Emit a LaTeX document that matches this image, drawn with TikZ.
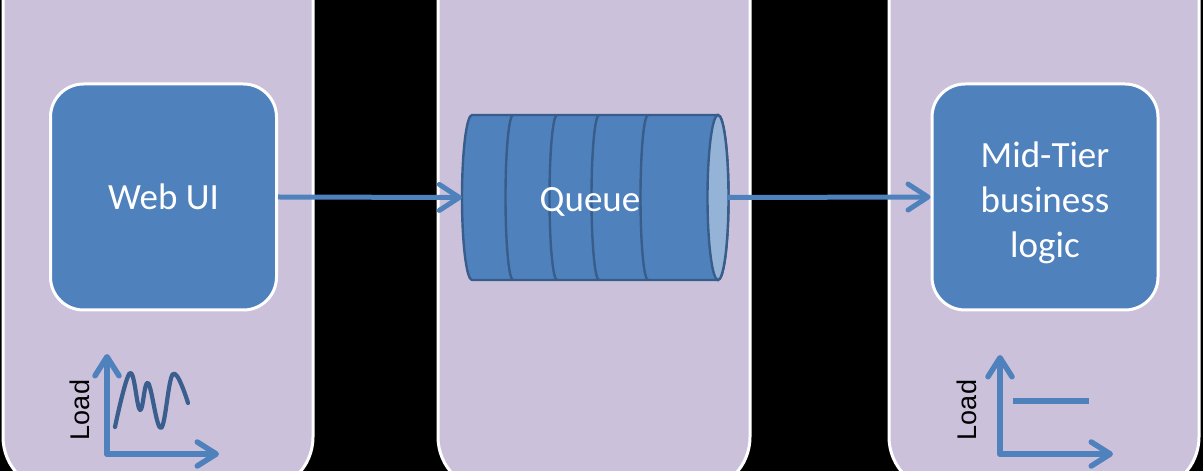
\documentclass[tikz,border=0pt]{standalone}
\usepackage{fontspec}
\setmainfont{Carlito}
\newfontfamily\arialfont{Liberation Sans}
\usetikzlibrary{arrows.meta}
\definecolor{panelfill}{HTML}{CCC1DA}
\definecolor{boxblue}{HTML}{4F81BD}
\definecolor{qline}{HTML}{385D8A}
\definecolor{qcap}{HTML}{95B3D7}
\definecolor{wavecol}{HTML}{3A5F8E}
\tikzset{
  panel/.style={fill=panelfill, draw=white, line width=3pt, rounded corners=54pt},
  tierbox/.style={rectangle, fill=boxblue, draw=white, line width=3pt, rounded corners=33pt,
    minimum width=226pt, minimum height=226pt, inner sep=0pt, align=center,
    text=white, font=\fontsize{37}{45}\selectfont},
  boxtext/.style={text=white, font=\fontsize{37}{45}\selectfont, inner sep=0pt, align=center},
  qstroke/.style={draw=qline, line width=2.4pt},
  conn/.style={draw=boxblue, line width=5pt,
    -{Straight Barb[length=20pt, width=26pt, round]}},
  axis/.style={draw=boxblue, line width=5.5pt, line cap=round,
    -{Straight Barb[length=19pt, width=24pt, round]}},
  loadlbl/.style={rotate=90, font=\arialfont\fontsize{27}{30}\selectfont, text=black, inner sep=0pt},
}
\begin{document}
\begin{tikzpicture}[x=1pt, y=1pt]
\useasboundingbox (0,0) rectangle (1203,471);
\clip (0,0) rectangle (1203,471);
\fill[black] (0,0) rectangle (1203,471);
% panels
\draw[panel] (3,-20) rectangle (313,540);
\draw[panel] (438,-20) rectangle (750,540);
\draw[panel] (889,-20) rectangle (1199,540);
% boxes
\node[tierbox] (web) at (163.5,274) {Web UI};
\node[tierbox] (mid) at (1045,274) {};
\node[boxtext] (midlabel) at (1045,268) {Mid-Tier\\business\\logic};
% queue cylinder
\node[rectangle, inner sep=0pt, minimum width=266pt, minimum height=165pt] (queue) at (595,273.5) {};
\draw[qstroke, fill=boxblue] (718,356) -- (472,356)
  arc[start angle=90, end angle=270, x radius=10pt, y radius=82.5pt]
  -- (718,191)
  arc[start angle=-90, end angle=90, x radius=10.5pt, y radius=82.5pt] -- cycle;
\foreach \rx in {513,557,599,648}{
  \draw[qstroke] (\rx,356) arc[start angle=90, end angle=270, x radius=7.5pt, y radius=82.5pt];
}
\draw[qstroke, fill=qcap] (718,273.5) ellipse[x radius=10.5pt, y radius=82.5pt];
\node[boxtext] (qlabel) at (590,269) {Queue};
% connectors
\draw[conn] (web.east) -- (queue.west);
\draw[conn] (queue.east) -- (mid.west);
% left load chart
\coordinate (o1) at (107,17);
\coordinate (y1) at (107,117);
\coordinate (x1) at (219,17);
\draw[axis] (o1) -- (y1);
\draw[axis] (o1) -- (x1);
\draw[wavecol, line width=4.2pt, line cap=round, line join=round]
  plot[smooth, tension=0.65] coordinates {(115,44) (130,98) (140,61) (148,88) (161,43) (173,97) (188,68)};
\node[loadlbl] (load1) at (80,61) {Load};
% right load chart
\coordinate (o2) at (1000,17);
\coordinate (y2) at (1000,116);
\coordinate (x2) at (1113,17);
\draw[axis] (o2) -- (y2);
\draw[axis] (o2) -- (x2);
\coordinate (h1) at (1013,70);
\coordinate (h2) at (1089,70);
\draw[boxblue, line width=5.5pt] (h1) -- (h2);
\node[loadlbl] (load2) at (967,61) {Load};
\end{tikzpicture}
\end{document}
